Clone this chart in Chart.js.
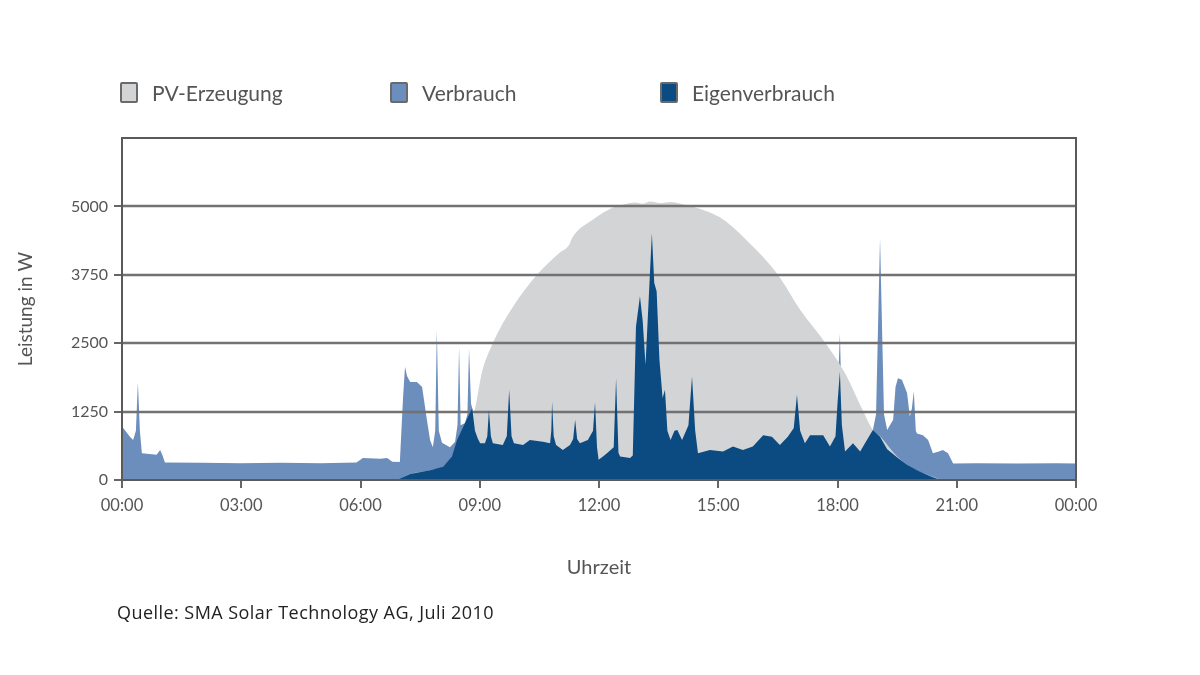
<!DOCTYPE html>
<html>
<head>
<meta charset="utf-8">
<script src="https://cdn.jsdelivr.net/npm/chart.js@4/dist/chart.umd.min.js"></script>
<style>
  html, body { margin: 0; padding: 0; background: #fff; }
  #wrap { position: relative; width: 1200px; height: 675px; overflow: hidden; }
  #chart { position: absolute; left: 0; top: 0; }
  .legend-item { position: absolute; top: 80px; display: flex; align-items: center;
    font-family: 'Lato', sans-serif; font-size: 21px; color: #555; }
  .legend-item span.box { display: inline-block; width: 14px; height: 17px; border: 2px solid #6a6a6a;
    border-radius: 2px; margin-right: 14px; }
  #source { position: absolute; left: 117px; top: 600px; font-family: 'Open Sans', sans-serif;
    font-size: 18px; letter-spacing: 0.45px; color: #222; }
</style>
</head>
<body>
<div id="wrap">
  <canvas id="chart" width="1200" height="675"></canvas>
  <div class="legend-item" style="left:120px"><span class="box" style="background:#d3d4d6"></span>PV-Erzeugung</div>
  <div class="legend-item" style="left:390px"><span class="box" style="background:#6b8ebc"></span>Verbrauch</div>
  <div class="legend-item" style="left:660px"><span class="box" style="background:#0c4a82"></span>Eigenverbrauch</div>
  <div id="source">Quelle: SMA Solar Technology AG, Juli 2010</div>
</div>
<script>
// -------- Daten (Stunde des Tages / Leistung in W) --------
const pvHours = [0, 6.9, 7.25, 7.75, 8.08, 8.3, 8.5, 8.7, 8.88, 9.05, 9.33, 9.84, 10.44, 11.0, 11.25, 11.32,
  11.85, 12.35, 12.6, 12.9, 13.1, 13.3, 13.55, 13.8, 14.1, 14.34, 15.04, 15.7, 16.5, 17.06, 17.7, 18.19,
  18.65, 18.89, 19.07, 19.5, 19.9, 20.4, 20.7, 24];
const pvWatts = [0, 0, 110, 180, 240, 430, 700, 1000, 1300, 1950, 2500, 3170, 3750, 4150, 4300, 4420,
  4760, 4980, 5030, 5070, 5050, 5090, 5060, 5080, 5040, 5000, 4800, 4390, 3750, 3110, 2500, 1950,
  1250, 915, 800, 430, 210, 60, 0, 0];

// Verbrauch in der Nacht und am Morgen
const useMorningHours = [0, 0.03, 0.2, 0.28, 0.35, 0.4, 0.45, 0.5, 0.87, 0.96, 1.02, 1.08, 2, 3, 4, 5, 5.9,
  6.06, 6.5, 6.67, 6.8, 6.99, 7.07, 7.12, 7.17, 7.25, 7.42, 7.55, 7.67, 7.75, 7.82, 7.88, 7.92, 7.97,
  8.05, 8.25, 8.38, 8.44, 8.48, 8.52, 8.63, 8.69, 8.73, 8.78, 8.81, 8.88];
const useMorningWatts = [950, 950, 790, 730, 900, 1780, 900, 490, 460, 550, 450, 320, 315, 305, 315, 305, 320,
  400, 390, 400, 335, 330, 1500, 2070, 1900, 1790, 1790, 1700, 1100, 730, 600, 900, 2740, 900,
  680, 600, 700, 1000, 2430, 1000, 1040, 1200, 2400, 1400, 1310, 900];

// Tagsüber: Verbrauch komplett aus PV gedeckt (= Eigenverbrauch)
const middayHours = [8.95, 9.01, 9.13, 9.19, 9.23, 9.28, 9.33, 9.58, 9.68, 9.74, 9.8, 9.86, 10.09, 10.26,
  10.59, 10.77, 10.8, 10.82, 10.86, 10.92, 11.09, 11.27, 11.35, 11.4, 11.45, 11.52, 11.72, 11.85, 11.9,
  11.95, 11.99, 12.1, 12.2, 12.37, 12.43, 12.49, 12.53, 12.78, 12.85, 12.93, 13.03, 13.1, 13.17, 13.25,
  13.33, 13.39, 13.45, 13.52, 13.6, 13.66, 13.72, 13.8, 13.9, 13.97, 14.09, 14.25, 14.34, 14.42, 14.49,
  14.79, 15.12, 15.37, 15.62, 15.87, 16.13, 16.35, 16.55, 16.75, 16.9, 16.98, 17.06, 17.18, 17.31,
  17.64, 17.81, 17.95];
const middayWatts = [760, 670, 670, 800, 1280, 800, 670, 640, 800, 1650, 800, 670, 640, 730,
  700, 670, 900, 1430, 800, 640, 550, 640, 750, 1100, 750, 670, 730, 900, 1420,
  600, 370, 430, 490, 600, 1860, 500, 430, 400, 450, 2800, 3360, 2900, 2100, 3300,
  4510, 3600, 3450, 2200, 1500, 1650, 900, 730, 900, 915, 730, 1000, 1890, 900, 490,
  550, 520, 610, 550, 610, 820, 790, 640, 790, 950, 1560, 900, 670, 820,
  820, 610, 800];

// Verbrauch am Abend und in der Nacht
const useEveningHours = [18.0, 18.06, 18.11, 18.19, 18.39, 18.57, 18.74, 18.89, 18.97, 19.07, 19.17, 19.25,
  19.4, 19.46, 19.52, 19.62, 19.75, 19.82, 19.87, 19.92, 19.97, 20.0, 20.15, 20.28, 20.4, 20.55, 20.65,
  20.78, 20.91, 21.5, 22.5, 23.5, 24];
const useEveningWatts = [1500, 2680, 1200, 520, 670, 520, 730, 915, 1200, 4420, 1200, 915,
  1100, 1700, 1860, 1830, 1590, 1160, 1300, 1620, 900, 850, 820, 730, 490, 520, 550,
  490, 300, 305, 300, 305, 300];

// Eigenverbrauch am Morgen und Abend (begrenzt durch PV-Erzeugung)
const selfMorningHours = [6.92, 7.25, 7.75, 8.08, 8.3, 8.43, 8.63, 8.81, 8.88];
const selfMorningWatts = [0, 110, 180, 240, 430, 730, 1040, 1310, 900];
const selfEveningHours = [18.0, 18.06, 18.11, 18.19, 18.39, 18.57, 18.74, 18.89, 19.07, 19.25, 19.52, 19.75,
  20.0, 20.2, 20.4, 20.6, 24];
const selfEveningWatts = [1400, 1980, 1000, 520, 670, 520, 730, 915, 790, 560, 400, 280,
  180, 110, 50, 0, 0];

const hourTicks = [0, 3, 6, 9, 12, 15, 18, 21, 24];
const wattTicks = [0, 1250, 2500, 3750, 5000];

// -------- Aufbau --------
const toPoints = (hs, ws) => hs.map((h, i) => ({ x: h, y: ws[i] }));
const pvData = toPoints(pvHours, pvWatts);
const useData = toPoints(useMorningHours.concat(middayHours, useEveningHours),
  useMorningWatts.concat(middayWatts, useEveningWatts));
const selfData = toPoints(selfMorningHours.concat(middayHours, selfEveningHours),
  selfMorningWatts.concat(middayWatts, selfEveningWatts));

const FONT = 'Lato, sans-serif';
const GRID = '#727272';

// Gitterlinien über "Verbrauch", aber unter "PV-Erzeugung" zeichnen
const gridPlugin = {
  id: 'gridPlugin',
  beforeDatasetDraw(chart, args) {
    if (args.index !== 0) return;
    const { ctx, chartArea, scales: { y } } = chart;
    ctx.save();
    ctx.strokeStyle = GRID;
    ctx.lineWidth = 2.5;
    wattTicks.forEach(v => {
      if (v === 0) return;
      const py = Math.round(y.getPixelForValue(v));
      ctx.beginPath();
      ctx.moveTo(chartArea.left, py);
      ctx.lineTo(chartArea.right, py);
      ctx.stroke();
    });
    ctx.restore();
  },
  afterDraw(chart) {
    const { ctx, chartArea } = chart;
    ctx.save();
    ctx.strokeStyle = '#5a5a5a';
    ctx.lineWidth = 2;
    ctx.strokeRect(chartArea.left, chartArea.top, chartArea.right - chartArea.left, chartArea.bottom - chartArea.top);
    ctx.restore();
  }
};

new Chart(document.getElementById('chart'), {
  type: 'line',
  data: {
    datasets: [
      { label: 'PV-Erzeugung', data: pvData, backgroundColor: '#d3d4d6', order: 2, cubicInterpolationMode: 'monotone' },
      { label: 'Verbrauch', data: useData, backgroundColor: '#6b8ebc', order: 3 },
      { label: 'Eigenverbrauch', data: selfData, backgroundColor: '#0c4a82', order: 1 }
    ].map(d => Object.assign({ fill: 'origin', borderWidth: 0, pointRadius: 0, tension: 0 }, d))
  },
  options: {
    responsive: false,
    animation: false,
    layout: { padding: { top: 138, right: 124, bottom: 95, left: 0 } },
    plugins: { legend: { display: false }, tooltip: { enabled: false } },
    scales: {
      x: {
        type: 'linear', min: 0, max: 24,
        afterBuildTicks: s => { s.ticks = hourTicks.map(v => ({ value: v })); },
        afterFit: s => { s.height = 100; },
        ticks: {
          callback: v => String(v % 24).padStart(2, '0') + ':00',
          color: '#555', font: { family: FONT, size: 16.5 }, padding: 8, maxRotation: 0
        },
        grid: { drawOnChartArea: false, drawTicks: true, tickLength: 8, color: '#666', lineWidth: 2 },
        border: { display: true, color: '#5a5a5a', width: 2 },
        title: { display: true, text: 'Uhrzeit', color: '#555', font: { family: FONT, size: 20 }, padding: { top: 0, bottom: 0 } }
      },
      y: {
        min: 0, max: 6250,
        afterBuildTicks: s => { s.ticks = wattTicks.map(v => ({ value: v })); },
        afterFit: s => { s.width = 122; },
        ticks: { callback: v => String(v), color: '#555', font: { family: FONT, size: 16 }, padding: 6 },
        grid: { drawOnChartArea: false, drawTicks: true, tickLength: 8, color: '#666', lineWidth: 2 },
        border: { display: true, color: '#5a5a5a', width: 2 },
        title: { display: true, text: 'Leistung in W', color: '#555', font: { family: FONT, size: 19 }, padding: { top: 14, bottom: 0 } }
      }
    }
  },
  plugins: [gridPlugin]
});
</script>
</body>
</html>
